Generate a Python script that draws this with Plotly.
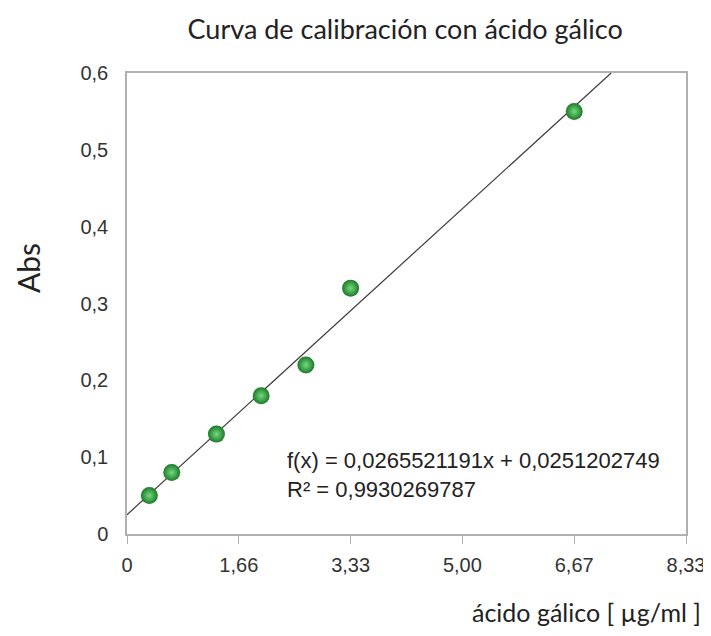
import plotly.graph_objects as go

# Data (x in concentration units used by the fit; axis labelled with scaled values)
x_vals = [1, 2, 4, 6, 8, 10, 20]
abs_vals = [0.05, 0.08, 0.13, 0.18, 0.22, 0.32, 0.55]
slope = 0.0265521191
intercept = 0.0251202749
r2 = 0.9930269787

x_tickvals = [0, 5, 10, 15, 20, 25]
x_ticktext = ["0", "1,66", "3,33", "5,00", "6,67", "8,33"]
y_tickvals = [0, 0.1, 0.2, 0.3, 0.4, 0.5, 0.6]
y_ticktext = ["0", "0,1", "0,2", "0,3", "0,4", "0,5", "0,6"]

y_max = 0.6
x_end = (y_max - intercept) / slope
line_x = [0, x_end]
line_y = [intercept + slope * v for v in line_x]

fig = go.Figure()
fig.add_trace(go.Scatter(x=line_x, y=line_y, mode="lines",
                         line=dict(color="#3a3a3a", width=1.2), hoverinfo="skip"))
fig.add_trace(go.Scatter(x=x_vals, y=abs_vals, mode="markers",
                         marker=dict(size=17, color="#1c7a29",
                                     gradient=dict(type="radial", color="#74da80"),
                                     line=dict(width=0))))

fig.add_annotation(x=7.07, y=0.077, xref="x", yref="y", xanchor="left", yanchor="middle",
                   text="f(x) = 0,0265521191x + 0,0251202749<br>R² = 0,9930269787",
                   showarrow=False, align="left",
                   font=dict(family="Liberation Sans, Arial", size=22, color="#222"))

fig.update_layout(
    width=703, height=620,
    margin=dict(l=119, r=25, t=65, b=94, autoexpand=False),
    paper_bgcolor="white", plot_bgcolor="white",
    showlegend=False,
    title=dict(text="Curva de calibración con ácido gálico", x=0.565, xanchor="center",
               y=0.965, yanchor="middle",
               font=dict(family="Lato, Open Sans", size=27, color="#222")),
    font=dict(family="Liberation Sans, Arial", size=20, color="#222"),
)
fig.update_xaxes(range=[0, 25], tickvals=x_tickvals, ticktext=x_ticktext,
                 showgrid=False, zeroline=False, showline=True, mirror=True,
                 linecolor="#b0b0b0", linewidth=1.5, automargin=False,
                 ticks="outside", ticklen=8, tickcolor="#b0b0b0",
                 ticklabelstandoff=4, ticklabeloverflow="allow",
                 tickfont=dict(size=20, color="#333"))
fig.update_yaxes(range=[0, 0.6], tickvals=y_tickvals, ticktext=y_ticktext,
                 showgrid=False, zeroline=False, showline=True, mirror=True,
                 linecolor="#b0b0b0", linewidth=1.5, ticks="", ticklabelstandoff=13,
                 automargin=False, tickfont=dict(size=20, color="#333"))

fig.add_annotation(text="Abs", xref="paper", yref="paper", x=-0.177, y=0.577,
                   textangle=-90, showarrow=False, xanchor="center", yanchor="middle",
                   font=dict(family="Lato, Open Sans", size=30, color="#222"))
fig.add_annotation(text="ácido gálico [ µg/ml ]", xref="paper", yref="paper", x=1.03, y=-0.169,
                   showarrow=False, xanchor="right", yanchor="middle",
                   font=dict(family="Lato, Open Sans", size=25, color="#222"))

fig.write_html("out.html")
